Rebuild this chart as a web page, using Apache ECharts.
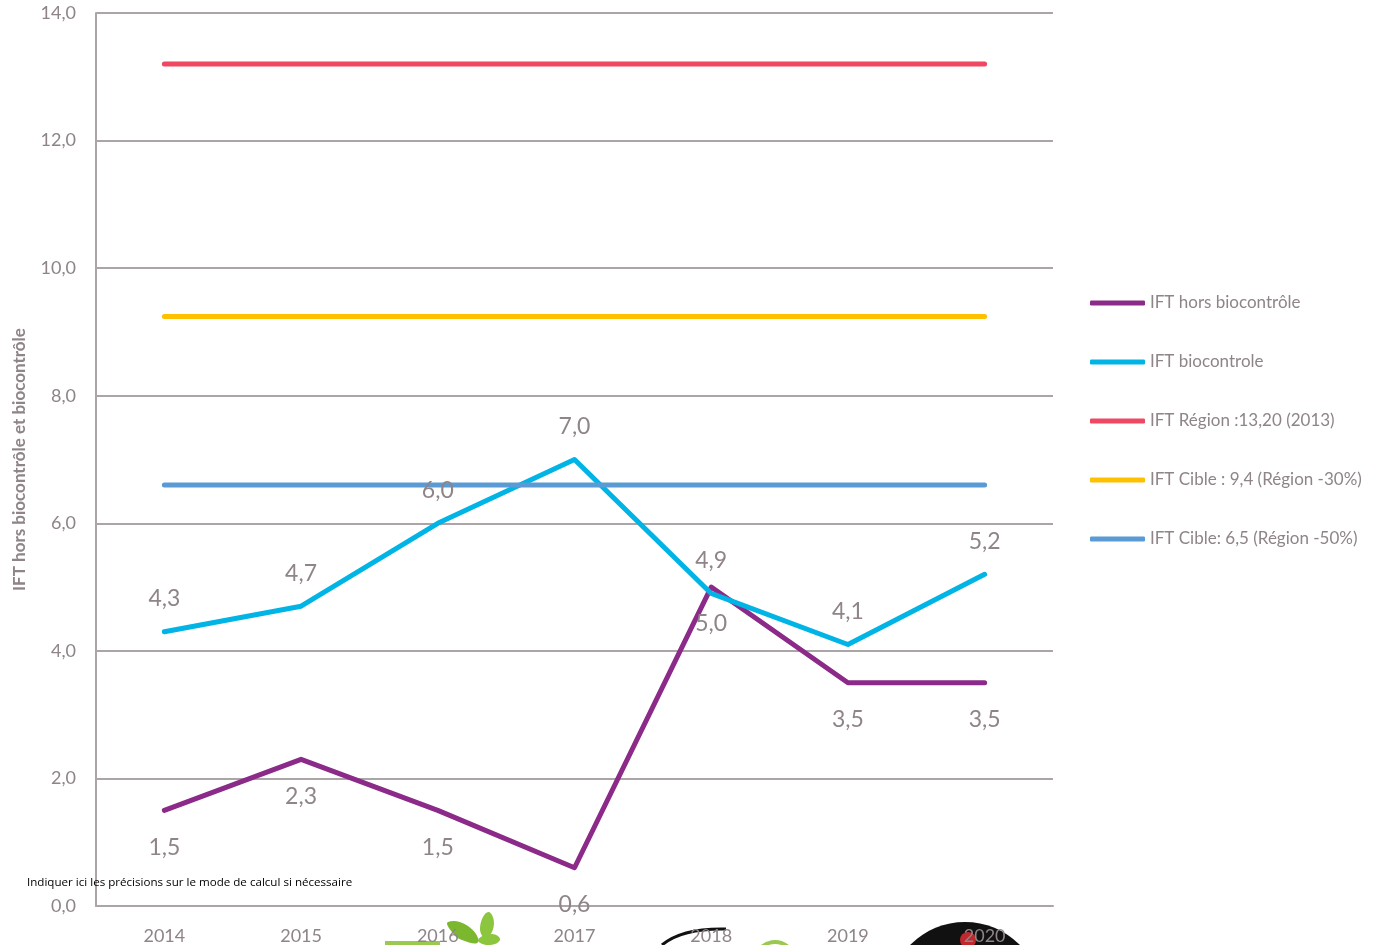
<!DOCTYPE html>
<html>
<head>
    <meta charset="utf-8"/>
    <title>IFT</title>
    <script src="https://cdn.jsdelivr.net/npm/echarts@6/dist/echarts.min.js"></script>
    <style>
        html, body { margin: 0; padding: 0; background: #fff; }
    </style>
</head>
<body>
<div id="main" style="width: 1379px;height:945px;"></div>
<script type="text/javascript">
    // données
    var years = ['2014', '2015', '2016', '2017', '2018', '2019', '2020'];
    var horsBio = [1.5, 2.3, 1.5, 0.6, 5.0, 3.5, 3.5];
    var bio = [4.3, 4.7, 6.0, 7.0, 4.9, 4.1, 5.2];
    var region = [13.2, 13.2, 13.2, 13.2, 13.2, 13.2, 13.2];
    var cible30 = [9.24, 9.24, 9.24, 9.24, 9.24, 9.24, 9.24];
    var cible50 = [6.6, 6.6, 6.6, 6.6, 6.6, 6.6, 6.6];
    var names = ['IFT hors biocontrôle', 'IFT biocontrole', 'IFT Région :13,20 (2013)',
        'IFT Cible : 9,4 (Région -30%)', 'IFT Cible: 6,5 (Région -50%)'];

    var grey = '#8e8489';
    var font = 'Lato';
    function virgule(v) { return v.toFixed(1).replace('.', ','); }

    function ligne(name, data, color) {
        return {
            name: name, type: 'line', data: data,
            symbol: 'none',
            lineStyle: { color: color, width: 5, cap: 'round', join: 'round' },
            itemStyle: { color: color },
            emphasis: { disabled: true }
        };
    }

    var s1 = ligne(names[0], horsBio, '#8b2a88');
    s1.symbol = 'circle'; s1.symbolSize = 1; s1.showSymbol = true;
    s1.label = { show: true, position: 'inside', offset: [0, 37], fontFamily: font, fontSize: 23,
        color: grey, formatter: function (p) { return virgule(p.value); } };
    var s2 = ligne(names[1], bio, '#00b4e6');
    s2.symbol = 'circle'; s2.symbolSize = 1; s2.showSymbol = true;
    s2.label = { show: true, position: 'inside', offset: [0, -33], fontFamily: font, fontSize: 23,
        color: grey, formatter: function (p) { return virgule(p.value); } };

    var myChart = echarts.init(document.getElementById('main'));
    myChart.setOption({
        backgroundColor: '#fff',
        animation: false,
        grid: { left: 96, right: 326, top: 13, bottom: 39, outerBoundsMode: 'none' },
        title: {
            text: 'Indiquer ici les précisions sur le mode de calcul si nécessaire',
            left: 22, top: 872,
            textStyle: { fontFamily: 'Open Sans', fontSize: 11.6, fontWeight: 'normal', color: '#000' }
        },
        legend: {
            orient: 'vertical', left: 1085, top: 288,
            icon: 'roundRect', itemWidth: 55, itemHeight: 5, itemGap: 39,
            textStyle: { fontFamily: font, fontSize: 17, color: grey, lineHeight: 20 },
            data: names
        },
        xAxis: {
            type: 'category', data: years, boundaryGap: true,
            axisLine: { lineStyle: { color: '#aca5a8', width: 2 } },
            axisTick: { show: false },
            axisLabel: { margin: 21, fontFamily: font, fontSize: 18, color: grey }
        },
        yAxis: {
            type: 'value', min: 0, max: 14, interval: 2,
            name: 'IFT hors biocontrôle et biocontrôle',
            nameLocation: 'middle', nameGap: 68,
            nameTextStyle: { fontFamily: font, fontSize: 17, fontWeight: 'bold', color: grey },
            axisLine: { show: true, lineStyle: { color: '#aca5a8', width: 2 } },
            axisTick: { show: false },
            splitLine: { lineStyle: { color: '#aca5a8', width: 2 } },
            axisLabel: { margin: 20, fontFamily: font, fontSize: 18, color: grey, formatter: virgule }
        },
        graphic: [
            { type: 'rect', z: 0, shape: { x: 385, y: 941, width: 55, height: 4 }, style: { fill: '#9bc850' } },
            { type: 'polygon', z: 0, shape: { points: [[448, 922], [468, 926], [478, 942], [462, 940], [452, 932]], smooth: 0.5 }, style: { fill: '#7cb82f' } },
            { type: 'polygon', z: 0, shape: { points: [[488, 912], [494, 924], [486, 938], [480, 928]], smooth: 0.5 }, style: { fill: '#8cc63f' } },
            { type: 'polygon', z: 0, shape: { points: [[478, 940], [492, 934], [500, 940], [488, 945]], smooth: 0.5 }, style: { fill: '#8cc63f' } },
            { type: 'bezierCurve', z: 0, shape: { x1: 662, y1: 945, cpx1: 682, cpy1: 928, x2: 726, y2: 929 }, style: { stroke: '#111', lineWidth: 3, fill: null } },
            { type: 'arc', z: 0, shape: { cx: 775, cy: 962, r: 20, startAngle: Math.PI * 1.2, endAngle: Math.PI * 1.8 }, style: { stroke: '#9bc850', lineWidth: 4, fill: null } },
            { type: 'circle', z: 0, shape: { cx: 965, cy: 999, r: 77 }, style: { fill: '#111' } },
            { type: 'circle', z: 0, shape: { cx: 968, cy: 940, r: 8 }, style: { fill: '#c0282d' } }
        ],
        series: [
            s1,
            s2,
            ligne(names[2], region, '#ee4863'),
            ligne(names[3], cible30, '#ffc000'),
            ligne(names[4], cible50, '#5b9bd5')
        ]
    });
</script>
</body>
</html>
